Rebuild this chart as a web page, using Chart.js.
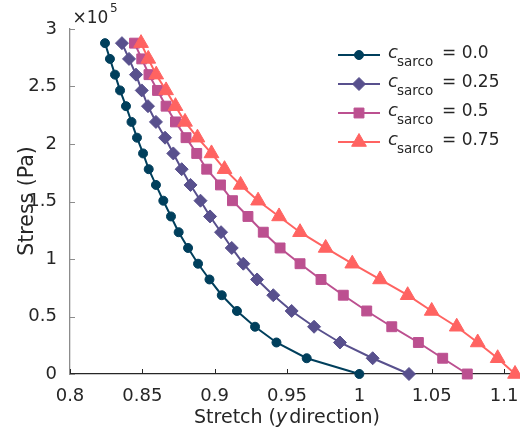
<!DOCTYPE html>
<html lang="en">
<head>
<meta charset="UTF-8">
<title>Stress vs stretch</title>
<script src="https://cdn.jsdelivr.net/npm/chart.js"></script>
<style>
    html, body { margin: 0; padding: 0; background: #fff; }
    #wrap { width: 520px; height: 431px; }
</style>
</head>
<body>
<div id="wrap"><canvas id="myChart"></canvas></div>
<script>
// stress levels (Pa), the same for every curve
let stress = [0, 13700, 27400, 41100, 54800, 68500, 82200, 95900, 109600, 123300, 137000,
              150700, 164400, 178100, 191800, 205500, 219200, 232900, 246600, 260300, 274000, 287700];
// stretch in y direction for each c_sarco
let stretch00  = [1.0, 0.9636, 0.9427, 0.9279, 0.9154, 0.9049, 0.8964, 0.8885, 0.8816, 0.8751, 0.8698,
                  0.8645, 0.8594, 0.8544, 0.8505, 0.8463, 0.8425, 0.8387, 0.8346, 0.8311, 0.8276, 0.8242];
let stretch025 = [1.0343, 1.0092, 0.9866, 0.9687, 0.9532, 0.9405, 0.9293, 0.9198, 0.9118, 0.9044, 0.8968,
                  0.8902, 0.8833, 0.8772, 0.8714, 0.8657, 0.8594, 0.8539, 0.8496, 0.8456, 0.8408, 0.8359];
let stretch05  = [1.0746, 1.0576, 1.0408, 1.0224, 1.0051, 0.9889, 0.9735, 0.9590, 0.9452, 0.9336, 0.9230,
                  0.9123, 0.9040, 0.8945, 0.8876, 0.8802, 0.8729, 0.8664, 0.8605, 0.8546, 0.8496, 0.8446];
let stretch075 = [1.1076, 1.0956, 1.0818, 1.0673, 1.0500, 1.0334, 1.0143, 0.9951, 0.9767, 0.9590, 0.9445,
                  0.9300, 0.9179, 0.9068, 0.8978, 0.8881, 0.8795, 0.8729, 0.8664, 0.8596, 0.8541, 0.8491];
let sarcoLabels = ['0.0', '0.25', '0.5', '0.75'];
let xTicks = [0.8, 0.85, 0.9, 0.95, 1, 1.05, 1.1];
let yTicks = [0, 50000, 100000, 150000, 200000, 250000, 300000];

// styles
let colors  = ['#003f5c', '#58508d', '#bc5090', '#ff6361'];
let markers = ['circle', 'rectRot', 'rect', 'triangle'];
let sizes   = [4.5, 6.5, 7, 8.5];
let txt = '#262626';
let FONT = "'DejaVu Sans'";

let curves = [stretch00, stretch025, stretch05, stretch075];
let datasets = curves.map(function(s, i){
    return {
        label: 'c_sarco = ' + sarcoLabels[i],
        data: stress.map(function(v, j){ return {x: s[j], y: v}; }),
        showLine: true,
        borderColor: colors[i],
        backgroundColor: colors[i],
        borderWidth: 2,
        pointStyle: markers[i],
        pointRadius: sizes[i],
        pointHoverRadius: sizes[i],
        pointBorderWidth: 1,
        pointBorderColor: colors[i],
        pointBackgroundColor: colors[i],
        clip: false,
        order: 4 - i
    };
});

// inward ticks, axis titles, x10^5 and the legend
let decor = {
    id: 'decor',
    beforeDatasetsDraw(chart){
        let ctx = chart.ctx, a = chart.chartArea, x = chart.scales.x, y = chart.scales.y;
        ctx.save();
        ctx.lineWidth = 1;
        ctx.strokeStyle = txt;
        x.ticks.forEach(function(t){
            let px = Math.round(x.getPixelForValue(t.value)) + 0.5;
            ctx.beginPath(); ctx.moveTo(px, a.bottom); ctx.lineTo(px, a.bottom - 5); ctx.stroke();
        });
        ctx.strokeStyle = '#8c8c8c';
        y.ticks.forEach(function(t){
            let py = Math.round(y.getPixelForValue(t.value)) + 0.5;
            ctx.beginPath(); ctx.moveTo(a.left, py); ctx.lineTo(a.left + 5, py); ctx.stroke();
        });
        ctx.restore();
    },
    afterDraw(chart){
        let ctx = chart.ctx;
        ctx.save();
        ctx.fillStyle = txt;
        ctx.textBaseline = 'alphabetic';
        ctx.textAlign = 'left';

        // x10^5
        ctx.font = '17px ' + FONT;
        ctx.fillText('\u00d710', 72.5, 23);
        let w = ctx.measureText('\u00d710').width;
        ctx.font = '12px ' + FONT;
        ctx.fillText('5', 72.5 + w + 1.5, 12);

        // x title with italic y
        let parts = [['Stretch (', '', 0], ['y', 'italic ', 2], ['direction)', '', 0]];
        let total = 0;
        parts.forEach(function(p){ ctx.font = p[1] + '19px ' + FONT; total += ctx.measureText(p[0]).width + p[2]; });
        let cx = 287 - total / 2;
        parts.forEach(function(p){
            ctx.font = p[1] + '19px ' + FONT;
            ctx.fillText(p[0], cx, 423);
            cx += ctx.measureText(p[0]).width + p[2];
        });

        // y title
        ctx.save();
        ctx.translate(32.5, 201);
        ctx.rotate(-Math.PI / 2);
        ctx.textAlign = 'center';
        ctx.font = '20.5px ' + FONT;
        ctx.fillText('Stress (Pa)', 0, 0);
        ctx.restore();

        // legend
        for (let i = 0; i < 4; i++){
            let ly = 55 + 29 * i;
            ctx.strokeStyle = colors[i];
            ctx.fillStyle = colors[i];
            ctx.lineWidth = 2;
            ctx.beginPath(); ctx.moveTo(338, ly); ctx.lineTo(380, ly); ctx.stroke();
            ctx.lineWidth = 1;
            Chart.helpers.drawPoint(ctx, {pointStyle: markers[i], radius: sizes[i], borderWidth: 1, rotation: 0}, 359, ly);
            ctx.fillStyle = txt;
            ctx.font = 'italic 18px ' + FONT;
            ctx.fillText('c', 388, ly + 3);
            let cw = ctx.measureText('c').width;
            ctx.font = '13.5px ' + FONT;
            ctx.fillText('sarco', 388 + cw - 1, ly + 11);
            ctx.font = '17px ' + FONT;
            ctx.fillText('= ' + sarcoLabels[i], 442, ly + 3);
        }
        ctx.restore();
    }
};

let ctx = document.getElementById('myChart');
let myChart = new Chart(ctx, {
    type: 'scatter',
    data: { datasets: datasets },
    options: {
        responsive: true,
        maintainAspectRatio: false,
        animation: false,
        events: [],
        layout: { autoPadding: false, padding: { left: 0, right: 1.5, top: 29, bottom: 0 } },
        plugins: { legend: { display: false }, tooltip: { enabled: false } },
        scales: {
            x: {
                type: 'linear',
                min: 0.8, max: 1.11,
                afterBuildTicks: function(s){ s.ticks = xTicks.map(function(v){ return {value: v}; }); },
                afterFit: function(s){ s.height = 57; s.paddingLeft = 0; s.paddingRight = 0; },
                grid: { display: false },
                border: { display: true, color: txt, width: 1.3 },
                ticks: {
                    color: txt, padding: 4, maxRotation: 0, autoSkip: false,
                    font: { family: 'DejaVu Sans', size: 18 },
                    callback: function(v){ return String(v); }
                }
            },
            y: {
                type: 'linear',
                min: 0, max: 300000,
                afterBuildTicks: function(s){ s.ticks = yTicks.map(function(v){ return {value: v}; }); },
                afterFit: function(s){ s.width = 70; s.paddingTop = 0; s.paddingBottom = 0; },
                grid: { display: false },
                border: { display: true, color: '#8c8c8c', width: 1.3 },
                ticks: {
                    color: txt, padding: 5, autoSkip: false,
                    font: { family: 'DejaVu Sans', size: 18 },
                    callback: function(v){ return String(v / 1e5); }
                }
            }
        }
    },
    plugins: [decor]
});
</script>
</body>
</html>
